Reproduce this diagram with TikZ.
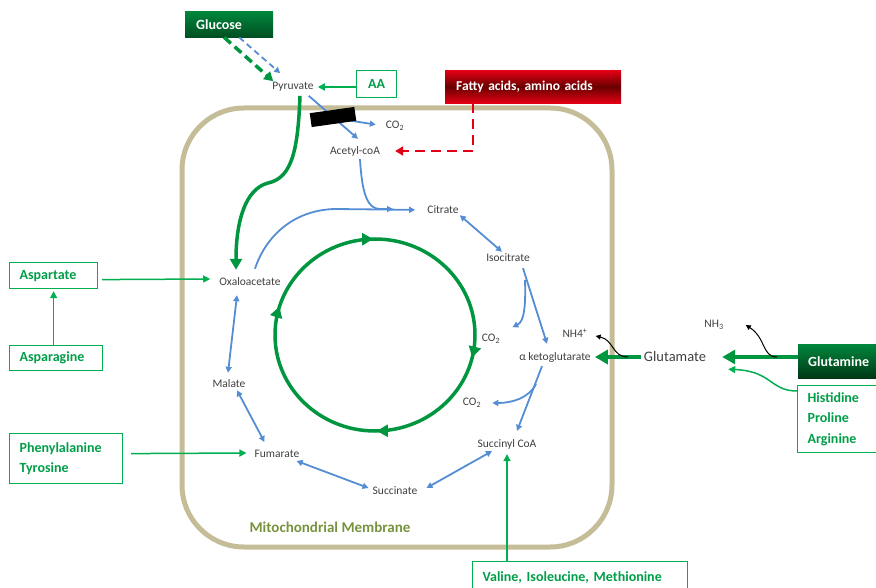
\documentclass[tikz,border=0pt]{standalone}
\usepackage{fontspec}
\setmainfont{Carlito}
\definecolor{cycleGreen}{RGB}{0,150,64}
\definecolor{boxGreen}{RGB}{0,176,80}
\definecolor{deepGreen}{RGB}{0,55,22}
\definecolor{midGreen}{RGB}{0,135,60}
\definecolor{pathBlue}{RGB}{84,141,212}
\definecolor{membraneTan}{RGB}{196,189,151}
\definecolor{membraneOlive}{RGB}{119,147,60}
\definecolor{fatRed}{RGB}{228,0,20}
\definecolor{deepRed}{RGB}{105,0,0}
\definecolor{labelGray}{RGB}{64,64,64}
\usepackage{tikz}
\usetikzlibrary{arrows.meta,calc,decorations.markings}

\begin{document}
\begin{tikzpicture}[x=1pt,y=-1pt,
                metabolite/.style={font=\fontsize{11.5}{13}\selectfont,text=labelGray,inner sep=1pt},
                sourcebox/.style={draw=boxGreen,line width=1.2pt,fill=white,text=boxGreen!90!black,anchor=north west,
                              font=\bfseries\fontsize{14}{20.5}\selectfont,align=left,inner xsep=10pt,inner ysep=3pt},
                shadedbox/.style={anchor=north west,text=white,font=\bfseries\fontsize{14}{17}\selectfont,
                              align=left,inner xsep=11pt,inner ysep=3pt},
                flow/.style={pathBlue,line width=1.8pt,-{Triangle[length=6pt,width=6pt]}},
                twoway/.style={pathBlue,line width=1.8pt,{Triangle[length=6pt,width=6pt]}-{Triangle[length=6pt,width=6pt]}},
                feed/.style={boxGreen,line width=1.5pt,-{Triangle[length=7pt,width=7pt]}},
                thickfeed/.style={cycleGreen,line width=4.5pt,-{Triangle[length=13pt,width=14pt]}},
                release/.style={black,line width=1pt,-{Triangle[length=5pt,width=5pt]}}
            ]
                \useasboundingbox (0,0) rectangle (876,588);
                \draw[membraneTan,line width=5pt,rounded corners=62pt] (182,108) rectangle (612,547);
                \node[font=\bfseries\fontsize{15}{18}\selectfont,text=membraneOlive] (membrane) at (330,527) {Mitochondrial Membrane};

                \node[shadedbox,top color=midGreen,bottom color=deepGreen!70!midGreen,text width=66pt,minimum height=26pt] (glucose) at (185,11) {Glucose};
                \node[shadedbox,top color=fatRed,bottom color=fatRed,middle color=deepRed,text width=154pt,minimum height=33pt,font=\bfseries\fontsize{13.5}{16}\selectfont] (fatty) at (445,70) {Fatty acids, amino acids};
                \node[shadedbox,top color=midGreen,bottom color=deepGreen,text width=58pt,inner xsep=10pt,minimum height=34pt] (glutamine) at (798,344) {Glutamine};
                \node[sourcebox,text width=20pt,align=center,minimum height=27pt] (aa) at (356,70) {AA};
                \node[sourcebox,text width=68pt,minimum height=26pt] (aspartate) at (9,262) {Aspartate};
                \node[sourcebox,text width=73pt,minimum height=25pt] (asparagine) at (9,345) {Asparagine};
                \node[sourcebox,text width=93pt,minimum height=50pt] (phenyl) at (9,433) {Phenylalanine\\Tyrosine};
                \node[sourcebox,text width=59pt,minimum height=67pt] (histidine) at (797,385) {Histidine\\Proline\\Arginine};
                \node[sourcebox,text width=195pt,minimum height=32pt] (valine) at (472,561) {Valine, Isoleucine, Methionine};

                \node[metabolite] (pyruvate) at (293,87) {Pyruvate};
                \node[metabolite] (co2top) at (395,126) {CO\textsubscript{2}};
                \node[metabolite] (acetyl) at (355,151) {Acetyl-coA};
                \node[metabolite] (citrate) at (443,210) {Citrate};
                \node[metabolite] (isocitrate) at (508,258) {Isocitrate};
                \node[metabolite] (co2mid) at (491,339) {CO\textsubscript{2}};
                \node[metabolite] (nhfour) at (575,333) {NH4\textsuperscript{+}};
                \node[metabolite] (akg) at (555,357) {α ketoglutarate};
                \node[metabolite,font=\fontsize{14.5}{17}\selectfont] (glutamate) at (675,357) {Glutamate};
                \node[metabolite] (nhthree) at (714,325) {NH\textsubscript{3}};
                \node[metabolite] (co2low) at (472,403) {CO\textsubscript{2}};
                \node[metabolite] (succinylcoa) at (507,444) {Succinyl CoA};
                \node[metabolite] (succinate) at (395,491) {Succinate};
                \node[metabolite] (fumarate) at (277,454) {Fumarate};
                \node[metabolite] (malate) at (229,384) {Malate};
                \node[metabolite] (oxaloacetate) at (250,282) {Oxaloacetate};

                \draw[cycleGreen,line width=3.5pt,decoration={markings,
                    mark=at position 0.253 with {\arrowreversed{Triangle[length=11pt,width=12pt]}},
                    mark=at position 0.453 with {\arrowreversed{Triangle[length=11pt,width=12pt]}},
                    mark=at position 0.753 with {\arrowreversed{Triangle[length=11pt,width=12pt]}},
                    mark=at position 0.963 with {\arrowreversed{Triangle[length=11pt,width=12pt]}}},
                    postaction={decorate}] (375,335) circle[x radius=100pt,y radius=96pt];

                \draw[cycleGreen,line width=3.5pt,dash pattern=on 9pt off 5pt,-{Triangle[length=9pt,width=10pt]}]
                    ($(glucose.south)+(-5,0)$) -- ($(pyruvate.north west)+(2,0)$);
                \draw[pathBlue,line width=1.8pt,dash pattern=on 6pt off 4pt,-{Triangle[length=6pt,width=6pt]}]
                    ($(glucose.south)+(10,0)$) -- ($(pyruvate.north west)+(9,-8)$);
                \draw[feed,shorten >=3pt] (aa.west |- pyruvate.east) -- (pyruvate.east);
                \draw[flow] ($(pyruvate.south east)+(-6,3)$) -- ($(acetyl.north)+(3,-6)$);
                \coordinate (decarb) at (340,119);
                \draw[flow,shorten >=9pt] (decarb) -- (co2top.west);
                \node[fill=black,minimum width=45pt,minimum height=14pt,inner sep=0pt,rotate=8] (blocker) at (333,117) {};
                \draw[cycleGreen,line width=3.5pt,-{Triangle[length=11pt,width=12pt]}]
                    ($(pyruvate.south)+(7,3)$) .. controls (298,150) and (292,178) .. (268,183)
                    .. controls (245,189) and (236,222) .. ($(oxaloacetate.north)+(-14,-7)$);
                \draw[fatRed,line width=2.5pt,dash pattern=on 10pt off 6pt,-{Triangle[length=8pt,width=9pt]},shorten >=14pt]
                    ($(fatty.south west)+(28,0)$) |- (acetyl.east);

                \coordinate (condense) at (393,209);
                \draw[flow] ($(acetyl.south)+(5,2)$) .. controls (362,195) and (368,209) .. (380,209) -- (condense);
                \draw[flow,shorten >=11pt] ($(oxaloacetate.north)+(5,-8)$) .. controls (265,238) and (292,210) .. (335,209) -- (citrate.west);
                \draw[twoway] (citrate.south east) -- ($(isocitrate.north)+(-6,-1)$);
                \draw[flow] ($(isocitrate.south)+(15,5)$) -- ($(akg.north)+(-8,-7)$);
                \coordinate (isobranch) at (525,280);
                \draw[flow] (isobranch) .. controls (526,312) and (523,322) .. ($(co2mid.north east)+(11,-6)$);
                \draw[flow] ($(akg.south)+(-13,3)$) -- ($(succinylcoa.north)+(10,-7)$);
                \coordinate (akgbranch) at (536,384);
                \draw[flow,shorten >=10pt] (akgbranch) .. controls (529,398) and (512,403) .. (co2low.east);
                \draw[twoway] ($(succinylcoa.south)+(-15,1)$) -- ($(succinate.east)+(8,-3)$);
                \draw[twoway] ($(succinate.west)+(-3,-3)$) -- ($(fumarate.south east)+(-4,2)$);
                \draw[twoway] ($(fumarate.north west)+(11,-7)$) -- ($(malate.south)+(8,1)$);
                \draw[twoway] ($(malate.north)+(-1,-6)$) -- ($(oxaloacetate.south)+(-13,8)$);

                \draw[feed] ($(aspartate.east)+(4,4)$) -- ($(oxaloacetate.west)+(-8,-3)$);
                \draw[feed,shorten >=2pt] (asparagine.north -| aspartate.south) -- (aspartate.south);
                \draw[feed] ($(phenyl.east)+(8,-5)$) -- ($(fumarate.west)+(-7,-1)$);
                \draw[feed,shorten >=4pt] (succinylcoa.south |- valine.north) -- (succinylcoa.south);
                \draw[thickfeed,shorten >=15pt] (glutamine.west |- glutamate.east) -- (glutamate.east);
                \draw[thickfeed,shorten >=3pt,shorten <=2pt] (glutamate.west) -- (akg.east);
                \draw[feed] ($(histidine.north west)+(0,6)$) .. controls (770,391) and (772,371) .. ($(glutamate.south east)+(21,6)$);

                \coordinate (deamidate) at (777,357);
                \draw[release] (deamidate) .. controls (762,357) and (766,338) .. ($(nhthree.east)+(21,0)$);
                \coordinate (ammonify) at (628,357);
                \draw[release] (ammonify) .. controls (612,357) and (614,340) .. ($(nhfour.east)+(7,3)$);
            \end{tikzpicture}
\end{document}
